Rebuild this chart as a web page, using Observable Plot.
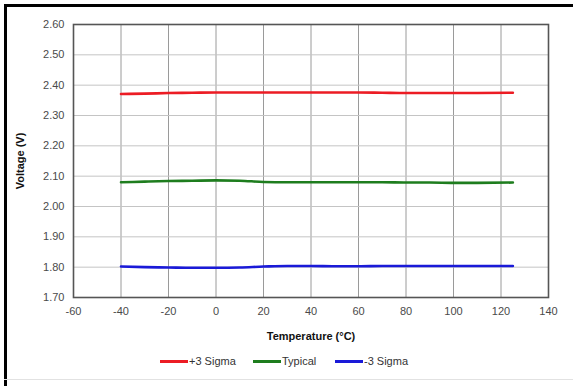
<!DOCTYPE html>
<html>
<head>
<meta charset="utf-8">
<script src="https://cdn.jsdelivr.net/npm/d3@7"></script>
<script src="https://cdn.jsdelivr.net/npm/@observablehq/plot@0.6"></script>
<style>
  html, body { margin: 0; padding: 0; background: #fff; }
  #wrap { position: relative; width: 573px; height: 387px; overflow: hidden; font-family: "Liberation Sans", Arial, sans-serif; }
  #frameL { position: absolute; left: 4px; top: 4px; width: 2.5px; height: 382px; background: #000; }
  #frameT { position: absolute; left: 4px; top: 4px; width: 569px; height: 2.5px; background: #000; }
  #frameB { position: absolute; left: 4px; top: 379px; width: 569px; height: 1px; background: #e2e2e2; }
  #chart { position: absolute; left: 0; top: 0; }
  #legend { position: absolute; left: 0; top: 354px; width: 573px; font-size: 11px; color: #333; }
  .item { position: absolute; top: 0; line-height: 14px; white-space: nowrap; }
  .sw { display: inline-block; width: 28px; height: 0; border-top: 3px solid; vertical-align: middle; margin-right: 1px; position: relative; top: -1px; }
</style>
</head>
<body>
<div id="wrap">
  <div id="chart"></div>
  <div id="frameL"></div>
  <div id="frameT"></div>
  <div id="frameB"></div>
  <div id="legend"></div>
</div>
<script>
const temps   = [-40, -30, -20, -10, 0, 10, 20, 30, 40, 50, 60, 70, 80, 90, 100, 110, 125];
const plus3   = [2.371, 2.372, 2.374, 2.375, 2.376, 2.376, 2.376, 2.376, 2.376, 2.376, 2.376, 2.375, 2.374, 2.374, 2.374, 2.374, 2.375];
const typical = [2.080, 2.082, 2.084, 2.085, 2.086, 2.085, 2.081, 2.080, 2.080, 2.080, 2.080, 2.080, 2.079, 2.079, 2.078, 2.078, 2.079];
const minus3  = [1.802, 1.800, 1.799, 1.798, 1.798, 1.799, 1.802, 1.804, 1.804, 1.803, 1.803, 1.804, 1.804, 1.804, 1.804, 1.804, 1.804];
const seriesNames = ["+3 Sigma", "Typical", "-3 Sigma"];
const seriesColors = ["#ec1c24", "#1e7d1e", "#1a1ad8"];
const xTicks = [-60, -40, -20, 0, 20, 40, 60, 80, 100, 120, 140];
const yTicks = [1.70, 1.80, 1.90, 2.00, 2.10, 2.20, 2.30, 2.40, 2.50, 2.60];

const seriesValues = [plus3, typical, minus3];
const data = [];
seriesNames.forEach((name, i) => {
  temps.forEach((t, j) => data.push({series: name, t, v: seriesValues[i][j]}));
});

const chart = Plot.plot({
  width: 573,
  height: 345,
  marginLeft: 73,
  marginTop: 24,
  marginRight: 25,
  marginBottom: 48,
  style: {fontFamily: "'Liberation Sans', Arial, sans-serif", fontSize: "11px", background: "transparent"},
  x: {domain: [-60, 140]},
  y: {domain: [1.70, 2.60]},
  color: {domain: seriesNames, range: seriesColors},
  marks: [
    Plot.gridX(xTicks, {stroke: "#9a9a9a", strokeOpacity: 1, strokeWidth: 1}),
    Plot.gridY(yTicks, {stroke: "#c4c4c4", strokeOpacity: 1, strokeWidth: 1}),
    Plot.lineY(data, {x: "t", y: "v", z: "series", stroke: "series", strokeWidth: 2.6, curve: "monotone-x"}),
    Plot.frame({stroke: "#555", strokeWidth: 1.6}),
    Plot.axisX(xTicks, {tickSize: 0, tickPadding: 10, fill: "#4a4a4a", tickFormat: d => d < 0 ? "-" + Math.abs(d) : String(d), label: "Temperature (°C)", labelAnchor: "center", labelOffset: 42, labelArrow: "none"}),
    Plot.axisY(yTicks, {tickSize: 0, tickPadding: 9, fill: "#4a4a4a", tickFormat: d3.format(".2f"), label: "Voltage (V)", labelAnchor: "center", labelOffset: 57, labelArrow: "none"})
  ]
});
chart.querySelectorAll("g[aria-label='x-axis label'] text, g[aria-label='y-axis label'] text").forEach(t => {
  t.setAttribute("font-weight", "bold");
  t.setAttribute("fill", "#111");
});
document.getElementById("chart").appendChild(chart);

const legend = document.getElementById("legend");
const lefts = [160, 253, 335];
seriesNames.forEach((name, i) => {
  const d = document.createElement("div");
  d.className = "item";
  d.style.left = lefts[i] + "px";
  d.innerHTML = `<span class="sw" style="border-color:${seriesColors[i]}"></span>${name}`;
  legend.appendChild(d);
});
</script>
</body>
</html>
